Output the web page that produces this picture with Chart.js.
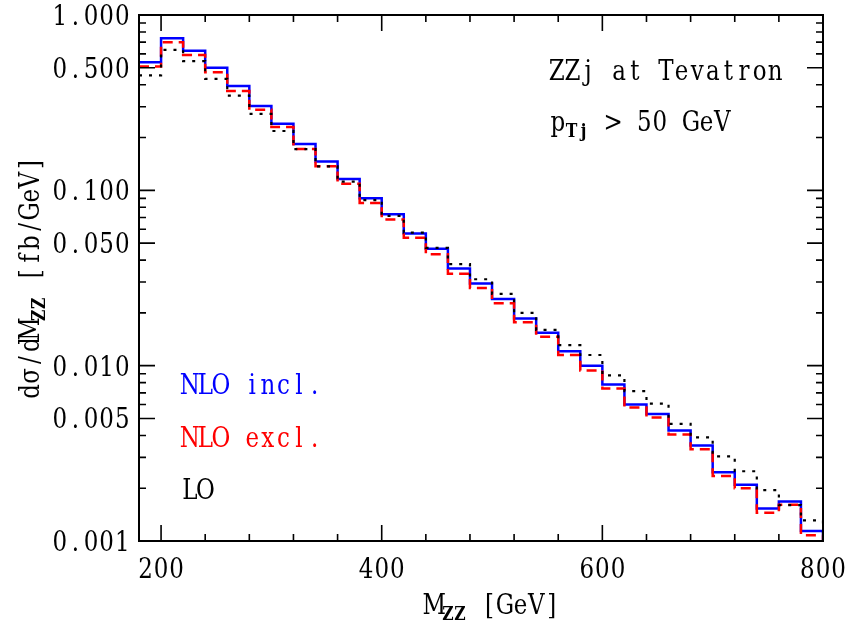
<!DOCTYPE html>
<html>
<head>
<meta charset="utf-8">
<script src="https://cdn.jsdelivr.net/npm/chart.js@4"></script>
<style>
    html, body { margin: 0; padding: 0; background: #fff; }
    #wrap { width: 852px; height: 626px; }
</style>
</head>
<body>
<div id="wrap"><canvas id="mzzChart" width="852" height="626"></canvas></div>
<script>
// bin lower edges (GeV), bins are 20 GeV wide
const binEdges = [180, 200, 220, 240, 260, 280, 300, 320, 340, 360, 380, 400, 420, 440, 460, 480,
    500, 520, 540, 560, 580, 600, 620, 640, 660, 680, 700, 720, 740, 760, 780];
const binUpper = 800;

// d sigma / dM_ZZ  [fb/GeV]
const nloIncl = [0.538, 0.736, 0.626, 0.501, 0.393, 0.303, 0.240, 0.184, 0.146, 0.116, 0.090,
    0.073, 0.0567, 0.0464, 0.0358, 0.0294, 0.0240, 0.0186, 0.0154, 0.0121, 0.0100, 0.0078,
    0.0060, 0.0053, 0.00427, 0.00351, 0.00247, 0.00209, 0.00153, 0.00168, 0.00114];
const nloExcl = [0.508, 0.699, 0.592, 0.472, 0.368, 0.288, 0.230, 0.172, 0.137, 0.109, 0.0848,
    0.0681, 0.0536, 0.0432, 0.0334, 0.0277, 0.0227, 0.0177, 0.0146, 0.0115, 0.0094, 0.0074,
    0.00577, 0.00507, 0.00405, 0.00334, 0.00235, 0.00200, 0.00145, 0.00161, 0.00108];
const lo = [0.452, 0.632, 0.545, 0.432, 0.347, 0.273, 0.218, 0.172, 0.137, 0.112, 0.088,
    0.0715, 0.0574, 0.0470, 0.0379, 0.0311, 0.0257, 0.0200, 0.0160, 0.0131, 0.0115, 0.0088,
    0.00715, 0.00608, 0.00466, 0.00390, 0.00304, 0.00250, 0.00195, 0.0016, 0.00131];

const xMin = 180, xMax = 800;
const yMin = 0.001, yMax = 1;
const xMajorTicks = [200, 400, 600, 800];
const xMinorStep = 40;
const yTickLabels = [1, 0.5, 0.1, 0.05, 0.01, 0.005, 0.001];

// typewriter look: serif glyphs placed in fixed-width cells
const FONT = '"DejaVu Serif", "Liberation Serif", serif';
const FONT_SIZE = 28;
const SUB_SIZE = 19;
const CELL = 15.6;
const SUB_CELL = 12;
const X_SQUEEZE = 0.82;

// turn a histogram into step points (last level drops back to the axis)
function histPoints(values) {
    const pts = binEdges.map((x, i) => ({ x: x, y: values[i] }));
    pts.push({ x: binUpper, y: values[values.length - 1] });
    pts.push({ x: binUpper, y: yMin });
    return pts;
}

// draws a run of text pieces, some of them subscripts, one glyph per cell
function drawRich(ctx, pieces, x, y, color, align) {
    ctx.save();
    ctx.fillStyle = color;
    ctx.textBaseline = 'alphabetic';
    ctx.textAlign = 'center';
    let total = 0;
    pieces.forEach(p => { total += p.t.length * (p.sub ? SUB_CELL : CELL); });
    let cx = x;
    if (align === 'center') cx = x - total / 2;
    if (align === 'right') cx = x - total;
    pieces.forEach(p => {
        const cell = p.sub ? SUB_CELL : CELL;
        ctx.font = (p.sub ? 'bold ' + SUB_SIZE : FONT_SIZE) + 'px ' + FONT;
        for (const ch of p.t) {
            if (ch !== ' ') {
                ctx.save();
                ctx.translate(cx + cell / 2, y + (p.sub ? 6 : 0));
                ctx.scale(X_SQUEEZE, 1);
                ctx.fillText(ch, 0, 0);
                ctx.restore();
            }
            cx += cell;
        }
    });
    ctx.restore();
}

const framePlugin = {
    id: 'frame',
    afterDraw(chart) {
        const ctx = chart.ctx;
        const area = chart.chartArea;
        const xs = chart.scales.x;
        const ys = chart.scales.y;

        ctx.save();
        ctx.strokeStyle = '#000';
        ctx.lineWidth = 2;
        ctx.strokeRect(area.left, area.top, area.right - area.left, area.bottom - area.top);

        // x ticks on bottom and top, pointing inward
        ctx.lineWidth = 1.6;
        for (let v = xMin; v <= xMax; v += xMinorStep / 2) {
            let len;
            if (xMajorTicks.includes(v)) len = 16;
            else if ((v - 200) % xMinorStep === 0) len = 7;
            else continue;
            const px = xs.getPixelForValue(v);
            ctx.beginPath();
            ctx.moveTo(px, area.bottom); ctx.lineTo(px, area.bottom - len);
            ctx.moveTo(px, area.top); ctx.lineTo(px, area.top + len);
            ctx.stroke();
        }

        // y ticks, log spaced, on left and right
        for (let e = -3; e <= 0; e++) {
            for (let m = 1; m <= 9; m++) {
                const v = m * Math.pow(10, e);
                if (v > yMax * 1.0001) break;
                const len = (m === 1 || m === 5) ? 16 : 7;
                const py = ys.getPixelForValue(v);
                ctx.beginPath();
                ctx.moveTo(area.left, py); ctx.lineTo(area.left + len, py);
                ctx.moveTo(area.right, py); ctx.lineTo(area.right - len, py);
                ctx.stroke();
            }
        }
        ctx.restore();

        // tick labels
        xMajorTicks.forEach(v => {
            drawRich(ctx, [{ t: String(v) }], xs.getPixelForValue(v), area.bottom + 37, '#000', 'center');
        });
        yTickLabels.forEach(v => {
            drawRich(ctx, [{ t: v.toFixed(3) }], area.left - 9, ys.getPixelForValue(v) + 10, '#000', 'right');
        });

        // axis titles
        drawRich(ctx, [{ t: 'M' }, { t: 'ZZ', sub: true }, { t: ' [GeV]' }], 493, 614, '#000', 'center');
        ctx.save();
        ctx.translate(39, 278);
        ctx.rotate(-Math.PI / 2);
        drawRich(ctx, [{ t: 'dσ/dM' }, { t: 'ZZ', sub: true }, { t: ' [fb/GeV]' }], 0, 0, '#000', 'center');
        ctx.restore();

        // annotations
        drawRich(ctx, [{ t: 'ZZj at Tevatron' }], 549, 80, '#000', 'left');
        drawRich(ctx, [{ t: 'p' }, { t: 'Tj', sub: true }, { t: ' > 50 GeV' }], 550, 131, '#000', 'left');

        // legend
        drawRich(ctx, [{ t: 'NLO incl.' }], 182, 394, '#0000ff', 'left');
        drawRich(ctx, [{ t: 'NLO excl.' }], 182, 447, '#ff0000', 'left');
        drawRich(ctx, [{ t: 'LO' }], 182, 499, '#000', 'left');
    }
};

new Chart(document.getElementById('mzzChart').getContext('2d'), {
    type: 'line',
    data: {
        datasets: [
            {
                label: 'NLO incl.',
                data: histPoints(nloIncl),
                borderColor: '#0000ff',
                borderWidth: 2.5,
                stepped: true,
                pointRadius: 0,
                order: 3
            },
            {
                label: 'NLO excl.',
                data: histPoints(nloExcl),
                borderColor: '#ff0000',
                borderWidth: 2.5,
                borderDash: [10, 6],
                stepped: true,
                pointRadius: 0,
                order: 2
            },
            {
                label: 'LO',
                data: histPoints(lo),
                borderColor: '#000000',
                borderWidth: 2.2,
                borderDash: [3, 7],
                stepped: true,
                pointRadius: 0,
                order: 1
            }
        ]
    },
    options: {
        responsive: false,
        animation: false,
        layout: { padding: { top: 15, right: 29, left: 0, bottom: 0 } },
        scales: {
            x: {
                type: 'linear',
                min: xMin,
                max: xMax,
                ticks: { display: false },
                grid: { display: false },
                border: { display: false },
                afterFit: (scale) => { scale.height = 85; }
            },
            y: {
                type: 'logarithmic',
                min: yMin,
                max: yMax,
                ticks: { display: false },
                grid: { display: false },
                border: { display: false },
                afterFit: (scale) => { scale.width = 139; }
            }
        },
        plugins: {
            legend: { display: false },
            tooltip: { enabled: false },
            title: { display: false }
        }
    },
    plugins: [framePlugin]
});
</script>
</body>
</html>
